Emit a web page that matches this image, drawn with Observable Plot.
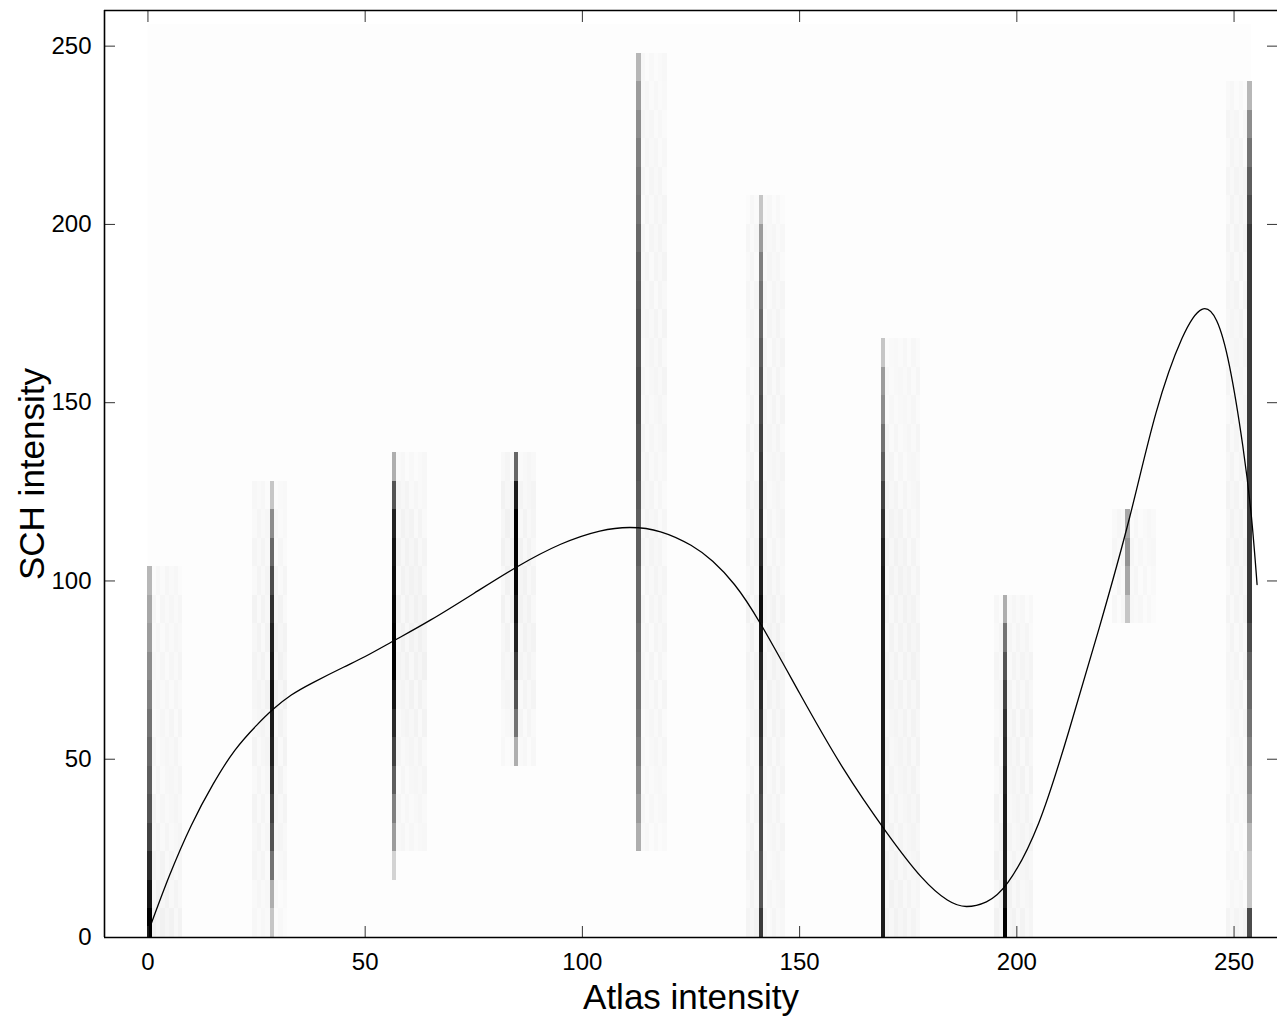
<!DOCTYPE html>
<html><head><meta charset="utf-8">
<script src="https://cdn.jsdelivr.net/npm/d3@7"></script>
<script src="https://cdn.jsdelivr.net/npm/@observablehq/plot@0.6"></script>
<style>body{margin:0;background:#fff}</style>
</head><body><div id="chart"></div>
<script>
// Atlas intensity levels (x position of each histogram column, 1 unit wide)
const atlasLevels = [0, 28.13, 56.27, 84.4, 112.53, 140.67, 168.8, 196.93, 225.07, 253.2];
// Darkness (0..1) of each SCH intensity bin of 8 units, from 0 upward, per column
const col0   = [1.0,0.85,0.7,0.55,0.45,0.4,0.35,0.3,0.25,0.2,0.15,0.12,0.08];
const col28  = [0.05,0.1,0.3,0.45,0.55,0.65,0.75,0.8,0.85,0.8,0.75,0.65,0.5,0.35,0.2,0.05];
const col57  = [0,0,0.03,0.15,0.25,0.4,0.55,0.7,0.85,1,1,0.95,0.9,0.85,0.75,0.45,0.1];
const col85  = [0,0,0,0,0,0,0.1,0.3,0.45,0.6,0.75,0.85,0.95,1,1,0.8,0.35];
const col113 = [0,0,0,0.1,0.15,0.2,0.25,0.28,0.3,0.3,0.32,0.35,0.35,0.4,0.4,0.42,0.45,0.45,0.48,0.48,0.45,0.45,0.42,0.4,0.35,0.3,0.28,0.25,0.2,0.15,0.08];
const col141 = [0.6,0.45,0.45,0.5,0.5,0.55,0.6,0.65,0.7,0.75,0.85,0.9,0.8,0.7,0.65,0.6,0.6,0.55,0.5,0.45,0.4,0.35,0.3,0.25,0.15,0.05];
const col170 = [0.8,0.8,0.8,0.8,0.8,0.8,0.8,0.8,0.8,0.8,0.8,0.8,0.8,0.75,0.65,0.55,0.4,0.3,0.2,0.15,0.05];
const col198 = [1,0.85,0.8,0.8,0.8,0.75,0.7,0.65,0.55,0.45,0.3,0.1];
const col226 = [0,0,0,0,0,0,0,0,0,0,0,0.05,0.12,0.18,0.12];
const col255 = [0.5,0.05,0.05,0.08,0.15,0.2,0.25,0.3,0.35,0.4,0.5,0.6,0.6,0.6,0.6,0.6,0.6,0.6,0.6,0.6,0.6,0.6,0.6,0.6,0.6,0.5,0.4,0.3,0.2,0.08];
const columnProfiles = [col0, col28, col57, col85, col113, col141, col170, col198, col226, col255];
// faint neighbouring bins around each column: [first offset, last offset]
const haloSpan = [[1,7],[-4,3],[1,7],[-3,4],[1,6],[-3,5],[1,8],[-2,6],[-3,6],[-5,-1]];
const haloShade = [0.0018,0.0008,0.002,0.001,0.0018,0.0005,0.0014,0.0005,0.001,0.0015,0.0008,0.0018,0.0005];
const binHeight = 8;
const histXExtent = [0, 254];
const histYExtent = [0, 256];
// fitted curve
const curveX = [0.5,5,10,15,20,25,28.8,33,38,45,50,57,65,75,85,95,104,111,118,125,130,135,141,150,160,170,178,184,188.4,193,198,205,212,219,226,232,238,242.6,246,249,252,254,255.3];
const curveY = [3,17.5,31.5,43,52.5,59.5,64,68,71.5,75.8,78.8,83.5,89,96.5,104,110.3,114,115,113.8,110,105.5,99,88,68.5,47.5,29.5,17,10.5,8.7,10,15.5,32,58,87,118,147,168,176.2,173,160,138,118,99];
const xTicks = [0,50,100,150,200,250];
const yTicks = [0,50,100,150,200,250];
const xDomain = [-10, 260];
const yDomain = [0, 260];

const cells = [], halo = [];
columnProfiles.forEach((prof, k) => {
  const x0 = atlasLevels[k];
  prof.forEach((d, j) => {
    if (d > 0) cells.push({x1: x0, x2: x0 + 1, y1: j*binHeight, y2: (j+1)*binHeight, d});
  });
  const [a, b] = haloSpan[k];
  for (let o = a, n = 0; o <= b; o++, n++) {
    if (o === 0) continue;
    prof.forEach((d, j) => {
      if (d < 0.05) return;
      halo.push({x1: x0 + o, x2: x0 + o + 1, y1: j*binHeight, y2: (j+1)*binHeight, d: haloShade[(n + j) % haloShade.length] * (0.5 + d)});
    });
  }
});
const curve = curveX.map((x, i) => ({x, y: curveY[i]}));

const font = "'Liberation Sans', Arial, Helvetica, sans-serif";
const chart = Plot.plot({
  width: 1277, height: 1017,
  marginLeft: 104, marginRight: 0, marginTop: 10, marginBottom: 80,
  style: {fontFamily: font, background: "#fff", color: "#000"},
  x: {domain: xDomain},
  y: {domain: yDomain},
  color: {type: "pow", exponent: 0.5, domain: [0, 1], range: ["#ffffff", "#000000"]},
  marks: [
    Plot.rect([{}], {x1: () => histXExtent[0], x2: () => histXExtent[1], y1: () => histYExtent[0], y2: () => histYExtent[1], fill: "#fdfdfd"}),
    Plot.rect(halo, {x1: "x1", x2: "x2", y1: "y1", y2: "y2", fill: "d", shapeRendering: "crispEdges"}),
    Plot.rect(cells, {x1: "x1", x2: "x2", y1: "y1", y2: "y2", fill: "d", shapeRendering: "crispEdges"}),
    Plot.line(curve, {x: "x", y: "y", curve: "natural", stroke: "#000", strokeWidth: 1.3}),
    // inward tick marks on all four sides
    Plot.axisX({anchor: "bottom", ticks: xTicks, tickSize: -11, tickFormat: () => "", stroke: "#333", label: null}),
    Plot.axisX({anchor: "top", ticks: xTicks, tickSize: -11, tickFormat: () => "", stroke: "#333", label: null}),
    Plot.axisY({anchor: "left", ticks: yTicks, tickSize: -11, tickFormat: () => "", stroke: "#333", label: null}),
    Plot.axisY({anchor: "right", ticks: yTicks, tickSize: -11, tickFormat: () => "", stroke: "#333", label: null}),
    // tick labels
    Plot.axisX({anchor: "bottom", ticks: xTicks, tickSize: 0, tickPadding: 15, fontSize: 24, label: null}),
    Plot.axisY({anchor: "left", ticks: yTicks, tickSize: 0, tickPadding: 13, fontSize: 24, label: null}),
    // frame (left, top, bottom)
    Plot.ruleX([xDomain[0]], {stroke: "#000", strokeWidth: 1.6}),
    Plot.ruleY(yDomain, {stroke: "#000", strokeWidth: 1.6}),
    // axis titles
    Plot.text(["Atlas intensity"], {frameAnchor: "bottom", lineAnchor: "middle", textAnchor: "middle", dy: 60, fontSize: 35, fill: "#000"}),
    Plot.text(["SCH intensity"], {frameAnchor: "left", lineAnchor: "middle", textAnchor: "middle", dx: -72, rotate: -90, fontSize: 35, fill: "#000"})
  ]
});
document.getElementById("chart").appendChild(chart);
</script>
</body></html>
